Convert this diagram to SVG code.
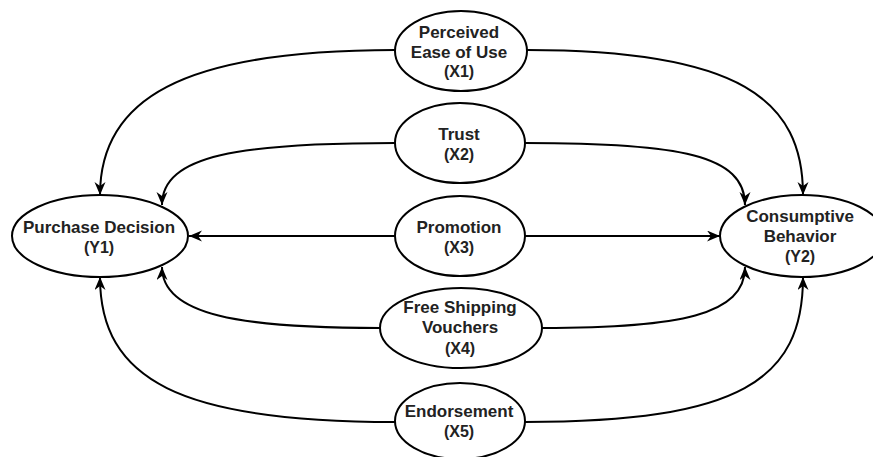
<svg xmlns="http://www.w3.org/2000/svg" width="873" height="457" viewBox="0 0 873 457">
<defs>
<marker id="arr" markerUnits="userSpaceOnUse" markerWidth="14" markerHeight="12" refX="13" refY="5.5" orient="auto" viewBox="0 0 14 12">
<path d="M0,0 L13,5.5 L0,11 L4,5.5 Z" fill="#000"/>
</marker>
<style>
.n{fill:#fff;stroke:#000;stroke-width:2}
.c{fill:none;stroke:#000;stroke-width:2;marker-end:url(#arr)}
text{font-family:"Liberation Sans",Arial,sans-serif;font-weight:bold;fill:#222;text-anchor:middle}
.t{font-size:17px}
.s{font-size:16px}
</style>
</defs>
<rect width="873" height="457" fill="#fff"/>
<g id="connectors">
<path class="c" d="M395,50 C180,50 100,100 100,195"/>
<path class="c" d="M395,143 C240,143 162,155 162,205"/>
<path class="c" d="M395,236 L189,236"/>
<path class="c" d="M380,328 C240,328 162,315 162,267"/>
<path class="c" d="M395,422 C180,422 100,380 100,277"/>
<path class="c" d="M527,50 C740,50 803,100 803,195"/>
<path class="c" d="M525,143 C680,143 745,155 745,205"/>
<path class="c" d="M525,236 L720,236"/>
<path class="c" d="M542,328 C680,328 745,315 745,267"/>
<path class="c" d="M525,422 C740,422 803,380 803,277"/>
</g>
<g id="X1">
<ellipse class="n" cx="461" cy="51" rx="66" ry="40"/>
<text class="t" x="459" y="38">Perceived</text>
<text class="t" x="459" y="58">Ease of Use</text>
<text class="s" x="459" y="77">(X1)</text>
</g>
<g id="X2">
<ellipse class="n" cx="460" cy="143" rx="65" ry="40"/>
<text class="t" x="459" y="140">Trust</text>
<text class="s" x="459" y="160">(X2)</text>
</g>
<g id="X3">
<ellipse class="n" cx="460" cy="236" rx="65" ry="40"/>
<text class="t" x="459" y="233">Promotion</text>
<text class="s" x="459" y="253">(X3)</text>
</g>
<g id="X4">
<ellipse class="n" cx="461" cy="328" rx="81" ry="40"/>
<text class="t" x="460" y="313">Free Shipping</text>
<text class="t" x="460" y="333">Vouchers</text>
<text class="s" x="460" y="354">(X4)</text>
</g>
<g id="X5">
<ellipse class="n" cx="460" cy="421" rx="65" ry="38"/>
<text class="t" x="459" y="417">Endorsement</text>
<text class="s" x="459" y="437">(X5)</text>
</g>
<g id="Y1">
<ellipse class="n" cx="100" cy="236" rx="88" ry="41"/>
<text class="t" x="99" y="233">Purchase Decision</text>
<text class="s" x="99" y="253">(Y1)</text>
</g>
<g id="Y2">
<ellipse class="n" cx="802" cy="236" rx="82" ry="41"/>
<text class="t" x="800" y="222">Consumptive</text>
<text class="t" x="800" y="242">Behavior</text>
<text class="s" x="800" y="262">(Y2)</text>
</g>
</svg>
